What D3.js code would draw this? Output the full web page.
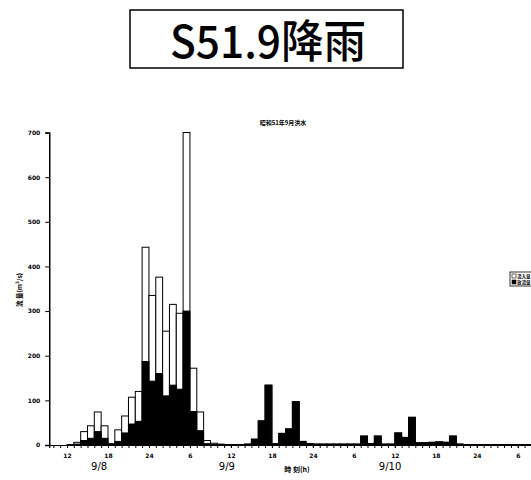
<!DOCTYPE html>
<html><head><meta charset="utf-8">
<script src="https://cdn.jsdelivr.net/npm/d3@7"></script>
<style>body{margin:0;background:#fff}svg{display:block}</style>
</head><body>
<script>
// hours counted from 9/8 12:00
const hours = d3.range(-2, 69);
const totalVals = [0,0, 1,6,30,43,74,43,3,34,65,107,120,443,335,376,255,315,295,700,172,74,10,4,2,1,1,1,2,13,54,134,3,26,36,97,8,3,2,2,2,2,2,2,2,20,3,20,2,2,27,17,62,5,5,6,7,6,20,2,1,1,1,1,1,1,1,1,1,1,1];
const blackVals = [0,0, 0,2,10,15,30,15,2,8,27,47,53,187,143,160,110,134,125,300,75,32,3,1,1,1,1,1,2,13,54,134,3,26,36,97,8,3,2,2,2,2,2,2,2,20,3,20,2,2,27,17,62,5,5,6,7,6,20,2,1,1,1,1,1,1,1,1,1,1,1];
const majorTicks = [0,6,12,18,24,30,36,42,48,54,60,66];
const majorLabels = ["12","18","24","6","12","18","24","6","12","18","24","6"];
const yTicks = [0,100,200,300,400,500,600,700];
const dateLabels = ["9/8","9/9","9/10"];
const datePos = [4.7,23.4,47.3];
const seriesNames = ["流入量","放流量"];

const W=531,H=480;
const svg=d3.select("body").append("svg").attr("width",W).attr("height",H);
svg.append("rect").attr("width",W).attr("height",H).attr("fill","#fff");

// big title
svg.append("rect").attr("x",130).attr("y",10).attr("width",273).attr("height",58)
  .attr("fill","#fff").attr("stroke","#000").attr("stroke-width",1.5);
svg.append("text").attr("x",268).attr("y",58).attr("text-anchor","middle")
  .attr("font-family","'Noto Sans CJK JP'").attr("font-size",45).attr("font-weight",500)
  .attr("textLength",196).attr("lengthAdjust","spacingAndGlyphs")
  .text("S51.9降雨");

const x=d3.scaleLinear().domain([-2.6,70]).range([67-2.6*6.83,67+70*6.83]);
const y=d3.scaleLinear().domain([0,700]).range([445,132.5]);

const g=svg.append("g");
// bars
g.selectAll(".w").data(hours).join("rect")
  .attr("x",(d)=>x(d)).attr("width",x(1)-x(0))
  .attr("y",(d,i)=>y(totalVals[i])).attr("height",(d,i)=>y(0)-y(totalVals[i]))
  .attr("fill","#fff").attr("stroke","#000").attr("stroke-width",1);
g.selectAll(".b").data(hours).join("rect")
  .attr("x",(d)=>x(d)).attr("width",x(1)-x(0))
  .attr("y",(d,i)=>y(blackVals[i])).attr("height",(d,i)=>y(0)-y(blackVals[i]))
  .attr("fill","#000").attr("stroke","#000").attr("stroke-width",1);

// y axis
const ya=svg.append("g").attr("transform",`translate(${x(-2.6)},0)`)
  .call(d3.axisLeft(y).tickValues(yTicks).tickSize(4).tickPadding(5).tickFormat(d=>d));
ya.select(".domain").attr("stroke-width",1.5);
ya.selectAll("text").attr("font-family","'DejaVu Sans'").attr("font-size",6).attr("font-weight","bold");

// x axis minor + major
const xm=svg.append("g").attr("transform",`translate(0,${y(0)})`)
  .call(d3.axisBottom(x).tickValues(d3.range(-2,69)).tickSize(3).tickFormat(""));
xm.select(".domain").attr("stroke-width",1.2);
const xa=svg.append("g").attr("transform",`translate(0,${y(0)})`)
  .call(d3.axisBottom(x).tickValues(majorTicks).tickSize(3).tickPadding(6).tickFormat((d,i)=>majorLabels[i]));
xa.select(".domain").remove();
xa.selectAll("text").attr("font-family","'DejaVu Sans'").attr("font-size",6).attr("font-weight","bold");

// date labels
svg.selectAll(".dl").data(dateLabels).join("text")
  .attr("x",(d,i)=>x(datePos[i])).attr("y",470).attr("text-anchor","middle")
  .attr("font-family","'DejaVu Sans'").attr("font-size",10)
  .text(d=>d);
svg.append("text").attr("x",297).attr("y",472).attr("text-anchor","middle")
  .attr("font-family","'Noto Sans CJK JP'").attr("font-size",7).attr("font-weight","bold")
  .text("時 刻(h)");

// y label
svg.append("text").attr("transform","translate(22,290) rotate(-90)").attr("text-anchor","middle")
  .attr("font-family","'Noto Sans CJK JP'").attr("font-size",6.5).attr("font-weight","bold")
  .text("流 量(m³/s)");

// inner title
svg.append("text").attr("x",283).attr("y",125).attr("text-anchor","middle")
  .attr("font-family","'Noto Sans CJK JP'").attr("font-size",6).attr("font-weight","bold")
  .text("昭和51年9月洪水");

// legend
const lg=svg.append("g").attr("transform","translate(510,272)");
lg.append("rect").attr("width",30).attr("height",14).attr("fill","#fff").attr("stroke","#000").attr("stroke-width",0.8);
lg.selectAll(".ls").data(seriesNames).join("rect")
  .attr("x",2).attr("y",(d,i)=>2+i*6).attr("width",4).attr("height",4)
  .attr("fill",(d,i)=>i?"#000":"#fff").attr("stroke","#000").attr("stroke-width",0.6);
lg.selectAll(".lt").data(seriesNames).join("text")
  .attr("x",7).attr("y",(d,i)=>6+i*6)
  .attr("font-family","'Noto Sans CJK JP'").attr("font-size",4.5).attr("font-weight","bold")
  .text(d=>d);
</script>
</body></html>
